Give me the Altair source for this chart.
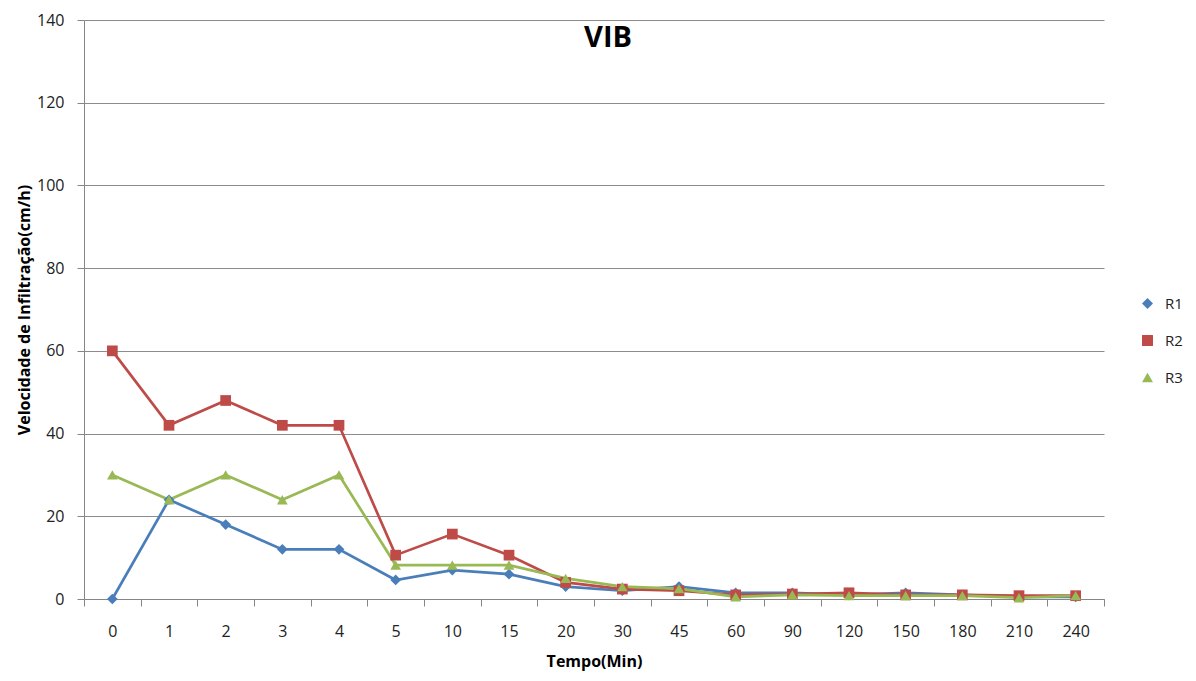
import altair as alt
import pandas as pd

tempos = ["0", "1", "2", "3", "4", "5", "10", "15", "20", "30", "45", "60", "90", "120", "150", "180", "210", "240"]
r1 = [0, 24, 18, 12, 12, 4.6, 7, 6, 3, 2, 3, 1.5, 1.5, 1, 1.5, 1, 0.5, 0.5]
r2 = [60, 42, 48, 42, 42, 10.6, 15.7, 10.6, 4, 2.4, 2, 1, 1.2, 1.5, 1, 1, 0.8, 0.8]
r3 = [30, 24, 30, 24, 30, 8.2, 8.2, 8.2, 5, 3, 2.5, 0.5, 1, 0.8, 0.8, 0.8, 0.3, 0.8]
series = ["R1", "R2", "R3"]
colors = ["#4a7ebb", "#be4b48", "#98b954"]
shapes = ["diamond", "square", "triangle-up"]

rows = []
for name, vals in zip(series, [r1, r2, r3]):
    for i, (t, v) in enumerate(zip(tempos, vals)):
        rows.append({"Tempo": t, "Valor": v, "Serie": name, "ord": i})
df = pd.DataFrame(rows)

FONT = "Open Sans"

x = alt.X("Tempo:N", sort=tempos,
          scale=alt.Scale(type="band", paddingInner=0, paddingOuter=0),
          axis=alt.Axis(title="Tempo(Min)", labelAngle=0, tickBand="extent",
                        grid=False, tickSize=7, labelPadding=17, titlePadding=14,
                        domainColor="#868686", tickColor="#868686",
                        labelFontSize=16, labelColor="#222222", labelFont=FONT,
                        titleFontSize=16, titleFont=FONT, titleFontWeight="bold"))
y = alt.Y("Valor:Q", scale=alt.Scale(domain=[0, 140]),
          axis=alt.Axis(title="Velocidade de Infiltração(cm/h)", values=list(range(0, 141, 20)),
                        tickSize=7, labelPadding=13, titlePadding=4,
                        domainColor="#868686", tickColor="#868686",
                        gridColor="#8c8c8c", gridWidth=1,
                        labelFontSize=16, labelColor="#222222", labelFont=FONT,
                        titleFontSize=16, titleFont=FONT, titleFontWeight="bold"))
leg = alt.Legend(title=None, orient="none", legendX=1056, legendY=276, padding=0,
                 labelFontSize=15, labelFont=FONT, labelColor="#222222", labelOffset=10,
                 rowPadding=21, symbolSize=120, symbolStrokeWidth=0)
color = alt.Color("Serie:N", scale=alt.Scale(domain=series, range=colors), legend=leg)
shape = alt.Shape("Serie:N", scale=alt.Scale(domain=series, range=shapes), legend=leg)

lines = alt.Chart(df).mark_line(strokeWidth=2.7).encode(
    x=x, y=y, color=color, order="ord:Q", detail="Serie:N")
points = alt.Chart(df).mark_point(filled=True, size=115, opacity=1).encode(
    x=x, y=y, color=color, shape=shape)

chart = alt.layer(lines, points).properties(
    width=1020, height=579,
    title=alt.TitleParams("VIB", fontSize=29, fontWeight="bold", font=FONT, color="#000000",
                          anchor="middle", dx=14, offset=-41),
    autosize=alt.AutoSizeParams(type="none"),
    padding={"left": 76, "top": 12, "right": 84, "bottom": 74},
).configure_view(stroke=None)

chart.save("out.html", embed_options={"renderer": "svg", "actions": False})
